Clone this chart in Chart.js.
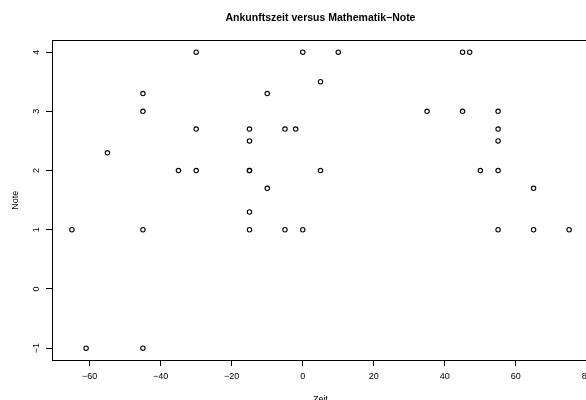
<!DOCTYPE html>
<html>
<head>
    <meta charset="utf-8"/>
    <title>Ankunftszeit versus Mathematik-Note</title>
    <script src="https://cdn.jsdelivr.net/npm/chart.js"></script>
    <style>
        html, body { margin: 0; padding: 0; overflow: hidden; background: #fff; }
        #wrap { width: 600px; height: 400px; }
    </style>
</head>
<body>
    <div id="wrap"><canvas id="scatterChart" width="600" height="400"></canvas></div>

    <script type="text/javascript">
      // Ankunftszeit (Minuten) und Note
      const zeit = [-30, 0, 10, 45, 47, 5, -45, -10, -45, 35, 45, 55, -30, -15, -5, -2, 55, -15, 55, -55,
                    -35, -30, -15, -15, 5, 50, 55, -10, 65, -15, -65, -45, -15, -5, 0, 55, 65, 75, -61, -45];
      const note = [4, 4, 4, 4, 4, 3.5, 3.3, 3.3, 3, 3, 3, 3, 2.7, 2.7, 2.7, 2.7, 2.7, 2.5, 2.5, 2.3,
                    2, 2, 2, 2, 2, 2, 2, 1.7, 1.7, 1.3, 1, 1, 1, 1, 1, 1, 1, 1, -1, -1];
      const xTicks = [-60, -40, -20, 0, 20, 40, 60, 80];
      const yTicks = [-1, 0, 1, 2, 3, 4];

      const FONT = 'Liberation Sans, Arial, Helvetica, sans-serif';
      const minus = v => String(v).replace('-', '\u2212');

      // box around the plot region + rotated y labels (R style)
      const rBox = {
        id: 'rBox',
        afterDraw(chart) {
          const ctx = chart.ctx;
          const a = chart.chartArea;
          ctx.save();
          ctx.strokeStyle = '#000';
          ctx.lineWidth = 1;
          ctx.strokeRect(Math.round(a.left) + 0.5, Math.round(a.top) + 0.5,
                         Math.round(a.right - a.left), Math.round(a.bottom - a.top));
          const ys = chart.scales.y;
          ctx.fillStyle = '#000';
          ctx.font = '9px ' + FONT;
          ctx.textAlign = 'center';
          ctx.textBaseline = 'middle';
          yTicks.forEach(v => {
            ctx.save();
            ctx.translate(a.left - 15.5, ys.getPixelForValue(v));
            ctx.rotate(-Math.PI / 2);
            ctx.fillText(minus(v), 0, 0);
            ctx.restore();
          });
          ctx.restore();
        }
      };

      const ctx = document.getElementById('scatterChart').getContext('2d');
      const chart = new Chart(ctx, {
          type: 'scatter',
          data: {
              datasets: [{
                  data: zeit.map((x, i) => ({ x: x, y: note[i] })),
                  pointStyle: 'circle',
                  pointRadius: 2.2,
                  pointBorderWidth: 1.1,
                  borderColor: '#000',
                  backgroundColor: 'rgba(0,0,0,0)'
              }]
          },
          options: {
              responsive: false,
              animation: false,
              layout: { padding: { left: 0, right: 11, top: 0, bottom: 0 } },
              plugins: {
                  legend: { display: false },
                  tooltip: { enabled: false },
                  title: {
                      display: true,
                      text: 'Ankunftszeit versus Mathematik\u2212Note',
                      fullSize: false,
                      color: '#000',
                      font: { family: FONT, size: 10.5, weight: 'bold' },
                      padding: { top: 12, bottom: 15.7 }
                  }
              },
              scales: {
                  x: {
                      type: 'linear',
                      min: -70.6,
                      max: 80.6,
                      afterBuildTicks: s => { s.ticks = xTicks.map(v => ({ value: v })); },
                      afterFit: s => { s.height = 40; },
                      border: { display: false },
                      grid: { drawOnChartArea: false, drawTicks: true, tickLength: 6, color: '#000', lineWidth: 1 },
                      ticks: {
                          color: '#000',
                          padding: 5.5,
                          maxRotation: 0,
                          autoSkip: false,
                          font: { family: FONT, size: 9 },
                          callback: v => minus(v)
                      },
                      title: {
                          display: true,
                          text: 'Zeit',
                          color: '#000',
                          font: { family: FONT, size: 9 },
                          padding: { top: 0, bottom: -5 }
                      }
                  },
                  y: {
                      type: 'linear',
                      min: -1.2,
                      max: 4.2,
                      afterBuildTicks: s => { s.ticks = yTicks.map(v => ({ value: v })); },
                      afterFit: s => { s.width = 52; },
                      border: { display: false },
                      grid: { drawOnChartArea: false, drawTicks: true, tickLength: 6, color: '#000', lineWidth: 1 },
                      ticks: { display: false },
                      title: {
                          display: true,
                          text: 'Note',
                          color: '#000',
                          font: { family: FONT, size: 9 },
                          padding: { top: 10, bottom: 0 }
                      }
                  }
              }
          },
          plugins: [rBox]
      });
    </script>
</body>
</html>
